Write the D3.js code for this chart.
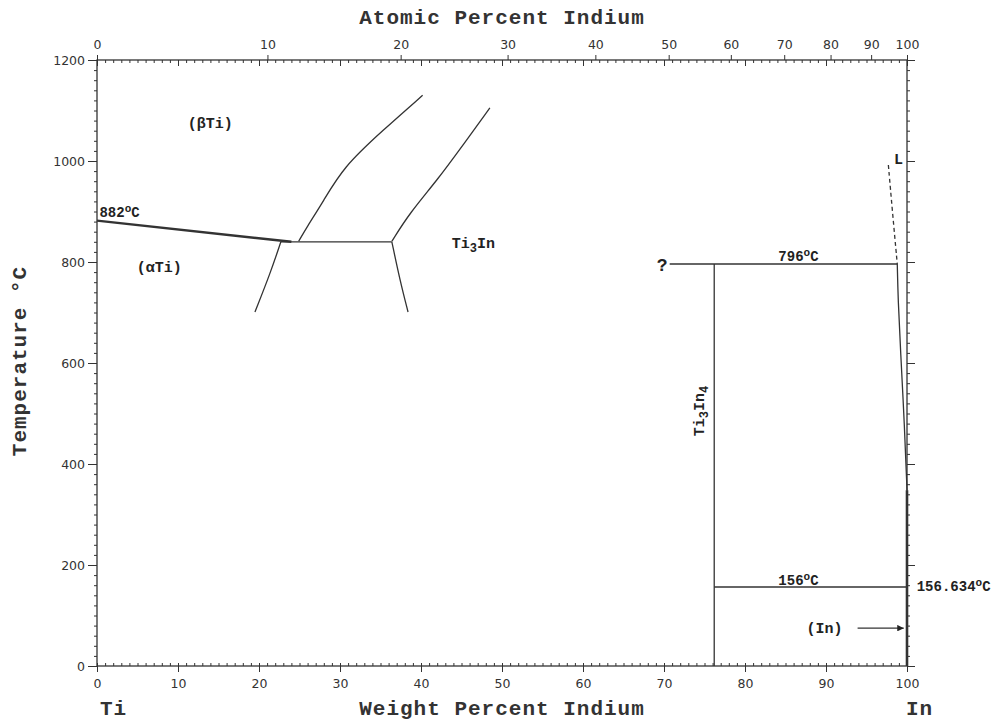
<!DOCTYPE html>
<html>
<head>
<meta charset="utf-8">
<script src="https://cdn.jsdelivr.net/npm/d3@7"></script>
<style>
  body { margin: 0; background: #fff; }
  .axis text { font-family: "DejaVu Sans", sans-serif; font-size: 12.5px; fill: #333; }
  .axis line, .axis path { stroke: #333; }
  .title { font-family: "Liberation Mono", monospace; font-weight: bold; font-size: 21px; letter-spacing: 1px; fill: #333; }
  .lbl { font-family: "Liberation Mono", monospace; font-weight: bold; fill: #222; }
  path.line { fill: none; stroke: #333; stroke-width: 1.3px; }
</style>
</head>
<body>
<svg id="chart"></svg>
<script>
// axis ticks
var wtTicks = [0, 10, 20, 30, 40, 50, 60, 70, 80, 90, 100];
var atTicks = [0, 10, 20, 30, 40, 50, 60, 70, 80, 90, 100];
var tempTicks = [0, 200, 400, 600, 800, 1000, 1200];

// phase boundaries, [wt% In, temperature C]
var transus882 = [[0, 882], [24, 840]];
var peritectoid840 = [[22.7, 840], [36.4, 840]];
var betaBoundary = [[24.9, 841], [25.9, 869], [27.9, 919], [30.4, 988], [35.3, 1061], [40.2, 1130]];
var ti3inUpper = [[36.4, 841], [38.6, 897], [42.0, 962], [45.2, 1032], [48.5, 1105]];
var alphaBoundary = [[22.7, 840], [21.4, 778], [19.5, 701]];
var ti3inLower = [[36.4, 840], [37.4, 764], [38.4, 701]];
var peritectic796 = [[70.7, 796], [98.8, 796]];
var ti3in4Line = [[76.2, 796], [76.2, 0]];
var eutectic156 = [[76.2, 156.4], [100, 156.4]];
var liquidus = [[97.7, 992], [98.2, 900], [98.8, 796]];
var inSolvus = [[98.8, 796], [98.9, 725], [99.2, 626], [99.7, 473], [100, 348]];
var inPhase = [[100, 348], [100, 0]];
var inArrow = [[93.9, 75], [99.6, 75]];

var W = 996, H = 724;
var margin = {top: 60, right: 89, bottom: 58, left: 97};
var width = W - margin.left - margin.right;
var height = H - margin.top - margin.bottom;

// atomic % -> weight % (Ti 47.867, In 114.818)
function atToWt(a) {
  return 100 * a * 114.818 / (a * 114.818 + (100 - a) * 47.867);
}

var x = d3.scaleLinear().domain([0, 100]).range([0, width]);
var y = d3.scaleLinear().domain([0, 1200]).range([height, 0]);

var svg = d3.select("#chart").attr("width", W).attr("height", H);
var g = svg.append("g").attr("transform", "translate(" + margin.left + "," + margin.top + ")");

var minorWt = d3.range(0, 101, 1);
var minorT = d3.range(0, 1201, 20);
var fmt = d3.format("d");

// bottom
g.append("g").attr("class", "axis").attr("transform", "translate(0," + height + ")")
  .call(d3.axisBottom(x).tickValues(wtTicks).tickSize(6).tickPadding(7).tickFormat(fmt));
g.append("g").attr("class", "axis").attr("transform", "translate(0," + height + ")")
  .call(d3.axisBottom(x).tickValues(minorWt).tickSize(-3).tickFormat(""));
// top: atomic outside, weight inside
g.append("g").attr("class", "axis")
  .call(d3.axisTop(x).tickValues(atTicks.map(atToWt)).tickSize(5).tickPadding(6)
    .tickFormat(function(d, i) { return atTicks[i]; }));
g.append("g").attr("class", "axis")
  .call(d3.axisTop(x).tickValues(wtTicks).tickSize(-6).tickFormat(""));
g.append("g").attr("class", "axis")
  .call(d3.axisTop(x).tickValues(minorWt).tickSize(-3).tickFormat(""));
// left
g.append("g").attr("class", "axis")
  .call(d3.axisLeft(y).tickValues(tempTicks).tickSize(9).tickPadding(3).tickFormat(fmt));
g.append("g").attr("class", "axis")
  .call(d3.axisLeft(y).tickValues(minorT).tickSize(3).tickFormat(""));
// right
g.append("g").attr("class", "axis").attr("transform", "translate(" + width + ",0)")
  .call(d3.axisRight(y).tickValues(tempTicks).tickSize(8).tickFormat(""));
g.append("g").attr("class", "axis").attr("transform", "translate(" + width + ",0)")
  .call(d3.axisRight(y).tickValues(minorT).tickSize(3).tickFormat(""));

g.selectAll(".axis path.domain").remove();
g.append("rect").attr("width", width).attr("height", height)
  .attr("fill", "none").attr("stroke", "#333").attr("stroke-width", 1.3);

var line = d3.line()
  .x(function(d) { return x(d[0]); })
  .y(function(d) { return y(d[1]); });
var curve = d3.line()
  .x(function(d) { return x(d[0]); })
  .y(function(d) { return y(d[1]); })
  .curve(d3.curveBasis);

g.append("path").datum(transus882).attr("class", "line").attr("d", line).style("stroke-width", "2.4px");
[peritectoid840, peritectic796, ti3in4Line, eutectic156].forEach(function(d) {
  g.append("path").datum(d).attr("class", "line").attr("d", line);
});
[betaBoundary, ti3inUpper, alphaBoundary, ti3inLower, inSolvus].forEach(function(d) {
  g.append("path").datum(d).attr("class", "line").attr("d", curve);
});
g.append("path").datum(liquidus).attr("class", "line").attr("d", curve)
  .style("stroke-dasharray", "4,3");
g.append("path").datum(inPhase).attr("class", "line").attr("d", line).style("stroke-width", "2.6px");

// arrow to (In)
svg.append("defs").append("marker").attr("id", "arr")
  .attr("viewBox", "0 0 10 10").attr("refX", 10).attr("refY", 5)
  .attr("markerWidth", 7).attr("markerHeight", 5).attr("orient", "auto")
  .append("path").attr("d", "M0,0L10,5L0,10z").attr("fill", "#222");
g.append("path").datum(inArrow).attr("class", "line").attr("d", line)
  .attr("marker-end", "url(#arr)");

// titles
svg.append("text").attr("class", "title").attr("x", margin.left + width / 2).attr("y", 24)
  .attr("text-anchor", "middle").text("Atomic Percent Indium");
svg.append("text").attr("class", "title").attr("x", margin.left + width / 2).attr("y", 715)
  .attr("text-anchor", "middle").text("Weight Percent Indium");
svg.append("text").attr("class", "title").attr("x", 100).attr("y", 715).text("Ti");
svg.append("text").attr("class", "title").attr("x", 906).attr("y", 715).text("In");
svg.append("text").attr("class", "title").attr("transform", "translate(26,361) rotate(-90)")
  .attr("text-anchor", "middle").text("Temperature °C");

// labels
function degLabel(px, py, num, size, anchor) {
  var t = g.append("text").attr("class", "lbl").attr("x", px).attr("y", py)
    .style("font-size", size + "px").attr("text-anchor", anchor || "start");
  t.append("tspan").text(num);
  t.append("tspan").attr("dy", -5).style("font-size", (size - 3) + "px").text("o");
  t.append("tspan").attr("dy", 5).text("C");
}
degLabel(x(0.3), y(890), "882", 14);
degLabel(x(86.6), y(801), "796", 14, "middle");
degLabel(x(86.6), y(161), "156", 14, "middle");
degLabel(x(101.2), y(148), "156.634", 14);

function subLabel(px, py, parts, size, rot) {
  var t = g.append("text").attr("class", "lbl").style("font-size", size + "px");
  if (rot) t.attr("transform", "translate(" + px + "," + py + ") rotate(-90)").attr("text-anchor", "middle");
  else t.attr("x", px).attr("y", py);
  parts.forEach(function(p, i) {
    var s = t.append("tspan").text(p[0]);
    if (p[1]) s.attr("dy", 4).style("font-size", (size - 3) + "px");
    else if (i > 0 && parts[i - 1][1]) s.attr("dy", -4);
  });
}
g.append("text").attr("class", "lbl").attr("x", x(11.2)).attr("y", y(1065))
  .style("font-size", "15px").text("(βTi)");
g.append("text").attr("class", "lbl").attr("x", x(4.9)).attr("y", y(780))
  .style("font-size", "15px").text("(αTi)");
subLabel(x(43.8), y(828), [["Ti"], ["3", true], ["In"]], 15);
subLabel(x(74.9), y(505), [["Ti"], ["3", true], ["In"], ["4", true]], 15, true);
g.append("text").attr("class", "lbl").attr("x", x(69.1)).attr("y", y(782))
  .style("font-size", "18px").text("?");
g.append("text").attr("class", "lbl").attr("x", x(98.4)).attr("y", y(995))
  .style("font-size", "15px").text("L");
g.append("text").attr("class", "lbl").attr("x", x(87.6)).attr("y", y(66))
  .style("font-size", "15px").text("(In)");
</script>
</body>
</html>
